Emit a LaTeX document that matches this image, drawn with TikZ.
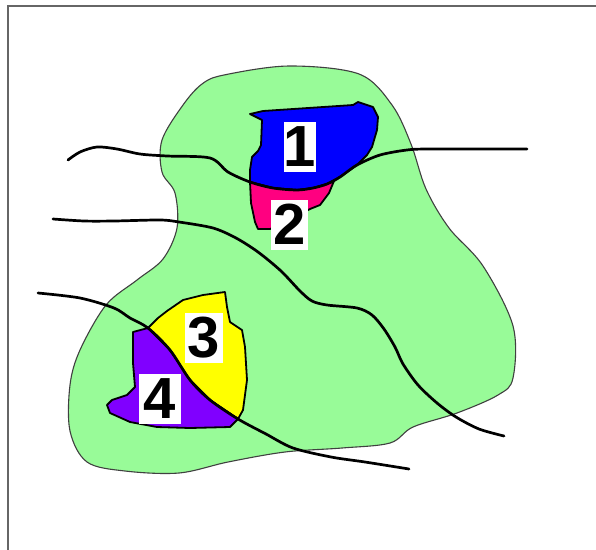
\documentclass[tikz,border=0pt]{standalone}
\usepackage{fontspec}
\newfontfamily\digitfont{Liberation Sans}
\definecolor{fieldgreen}{RGB}{152,251,152}
\definecolor{zoneblue}{RGB}{0,0,255}
\definecolor{zonepink}{RGB}{255,0,128}
\definecolor{zoneyellow}{RGB}{255,255,0}
\definecolor{zonepurple}{RGB}{128,0,255}

\begin{document}
\begin{tikzpicture}[x=1pt,y=-1pt,
    river/.style={line width=2.7pt,line cap=round,line join=round},
    zone/.style={draw=black,line width=1.8pt,line join=round},
    tag/.style={fill=white,inner sep=0pt,minimum width=34pt,minimum height=50pt,
        font=\digitfont\bfseries\fontsize{58}{58}\selectfont}]
    \useasboundingbox (0,0) rectangle (596,549);
    % Draw frame
    \draw[black!60,line width=1.5pt] (8,560) -- (8,6) -- (610,6);
    % Draw green area
    \draw[fill=fieldgreen,draw=black!75,line width=1.1pt]
        plot[smooth cycle,tension=0.55] coordinates {(224,75) (289,66) (359,74)
        (392,105) (411,144) (426,189) (449,228) (483,266) (513,326) (513,378)
        (498,395) (457,413) (413,427) (390,443) (342,448) (285,452) (228,462)
        (179,473) (125,471) (87,462) (70,431) (70,385) (80,350) (106,305)
        (137,280) (163,259) (177,228) (175,193) (162,172) (162,140) (183,105)
        (202,84)};
    % Draw four zones
    \draw[zone,fill=zoneblue] (250,114) -- (263,111) -- (353,105) -- (358,102)
        -- (373,107) -- (378,117) -- (377,130) -- (372,147) -- (367,155)
        -- (357,165) -- (340,177) -- (327,184) -- (313,188) -- (297,190)
        -- (273,188) -- (250,182) -- (250,170) -- (252,157) -- (258,151)
        -- (261,145) -- (262,120) -- cycle;
    \draw[zone,fill=zonepink] (250,182) -- (273,188) -- (297,190) -- (313,188)
        -- (327,184) -- (334,181) -- (329,193) -- (320,205) -- (310,209)
        -- (270,229) -- (258,229) -- (255,222) -- (251,203) -- cycle;
    \draw[zone,fill=zoneyellow] (148,328) -- (158,318) -- (167,311) -- (183,300)
        -- (203,295) -- (225,292) -- (227,307) -- (230,322) -- (242,330)
        -- (245,347) -- (247,380) -- (243,410) -- (238,419) -- (210,400)
        -- (190,380) -- (170,350) -- cycle;
    \draw[zone,fill=zonepurple] (133,332) -- (148,328) -- (170,350) -- (190,380)
        -- (210,400) -- (238,419) -- (230,427) -- (190,428) -- (157,427)
        -- (130,422) -- (110,413) -- (107,405) -- (112,400) -- (127,395)
        -- (135,387) -- (133,363) -- cycle;
    % Draw three rivers
    \draw[river] plot[smooth,tension=0.5] coordinates {(68,160) (80,152) (97,147)
        (117,149) (140,154) (167,156) (210,158) (228,172) (250,182) (273,188)
        (297,190) (313,188) (327,184) (340,177) (357,165) (380,155) (407,150)
        (430,149) (527,149)};
    \draw[river] plot[smooth,tension=0.5] coordinates {(53,219) (84,221) (114,221)
        (160,220) (179,222) (213,228) (236,238) (258,252) (281,271) (300,291)
        (312,301) (327,305) (357,308) (372,315) (384,329) (395,347) (403,364)
        (418,385) (437,403) (456,417) (479,429) (504,436)};
    \draw[river] plot[smooth,tension=0.5] coordinates {(38,293) (80,298) (114,308)
        (130,318) (148,328) (170,350) (190,380) (210,400) (238,419) (266,434)
        (293,448) (331,457) (365,462) (409,469)};
    % Zone labels
    \node[tag,minimum width=31pt] (lab1) at (300,147) {1};
    \node[tag,minimum width=37pt] (lab2) at (289.5,224.5) {2};
    \node[tag,minimum width=38pt] (lab3) at (203.5,338) {3};
    \node[tag,minimum width=42pt] (lab4) at (159.5,399) {4};
\end{tikzpicture}
\end{document}
